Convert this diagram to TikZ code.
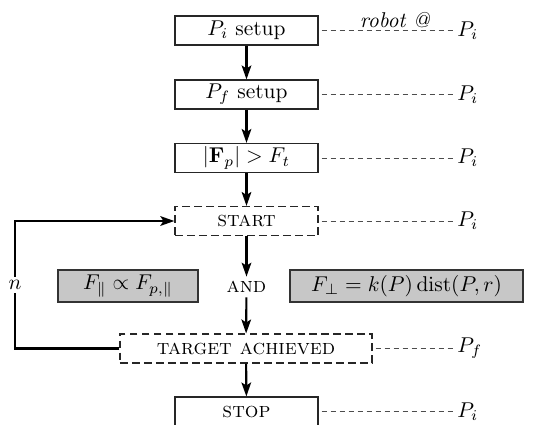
\documentclass[tikz,border=0pt]{standalone}
\usetikzlibrary{arrows.meta}
\begin{document}
\begin{tikzpicture}[x=0.467pt,y=-0.467pt,
  box/.style={draw=black!85,line width=0.6pt,minimum width=66.8pt,minimum height=13.5pt,inner sep=0pt},
  dbox/.style={box,dash pattern=on 3.6pt off 2pt},
  gbox/.style={draw=black!80,line width=0.6pt,fill=black!22,minimum height=14.9pt,inner sep=0pt},
  flow/.style={line width=1pt,-{Stealth[length=6.5pt,width=4.5pt,inset=1.4pt]}},
  link/.style={draw=black!70,line width=0.45pt,dash pattern=on 2.4pt off 1.8pt},
  lab/.style={anchor=west,inner sep=0pt}]
\useasboundingbox (0,0) rectangle (537,424);
\node[box] (a) at (246.5,30.5) {$P_i$ setup};
\node[box] (b) at (246.5,94.5) {$P_f$ setup};
\node[box] (c) at (246.5,158) {$|\mathbf{F}_p|>F_t$};
\node[dbox] (s) at (246.5,221) {\textsc{start}};
\node[inner sep=2pt] (and) at (246.5,287) {\textsc{and}};
\node[gbox,minimum width=65.4pt] (fpar) at (128,286) {$F_\parallel \propto F_{p,\parallel}$};
\node[gbox,minimum width=108.8pt] (fperp) at (406.5,286) {$F_\perp = k(P)\,\mathrm{dist}(P,r)$};
\node[dbox,minimum width=117.7pt] (t) at (246,348.5) {\textsc{target achieved}};
\node[box] (e) at (246.5,411.5) {\textsc{stop}};

\draw[flow] (a) -- (b);
\draw[flow] (b) -- (c);
\draw[flow] (c) -- (s);
\draw[flow] (s) -- (and);
\draw[flow] (and) -- (t);
\draw[flow] (t) -- (e);

\coordinate (lb) at (15,348.5);
\coordinate (lt) at (15,221);
\draw[flow] (t.west) -- (lb) -- node[fill=white,inner sep=1.5pt,pos=0.5] (n) {$n$} (lt) -- (s.west);

\foreach \src/\y/\txt [count=\k] in {a/30.5/{$P_i$}, b/94.5/{$P_i$}, c/158/{$P_i$}, s/221/{$P_i$}, t/348.5/{$P_f$}, e/411.5/{$P_i$}} {
  \coordinate (le\k) at (453,\y);
  \draw[link] (\src.east) ++(3,0) -- (le\k);
  \node[lab] (pl\k) at (457,\y) {\txt};
}
\node[inner sep=0pt] (rob) at (395,20) {\textit{robot @}};
\end{tikzpicture}
\end{document}
